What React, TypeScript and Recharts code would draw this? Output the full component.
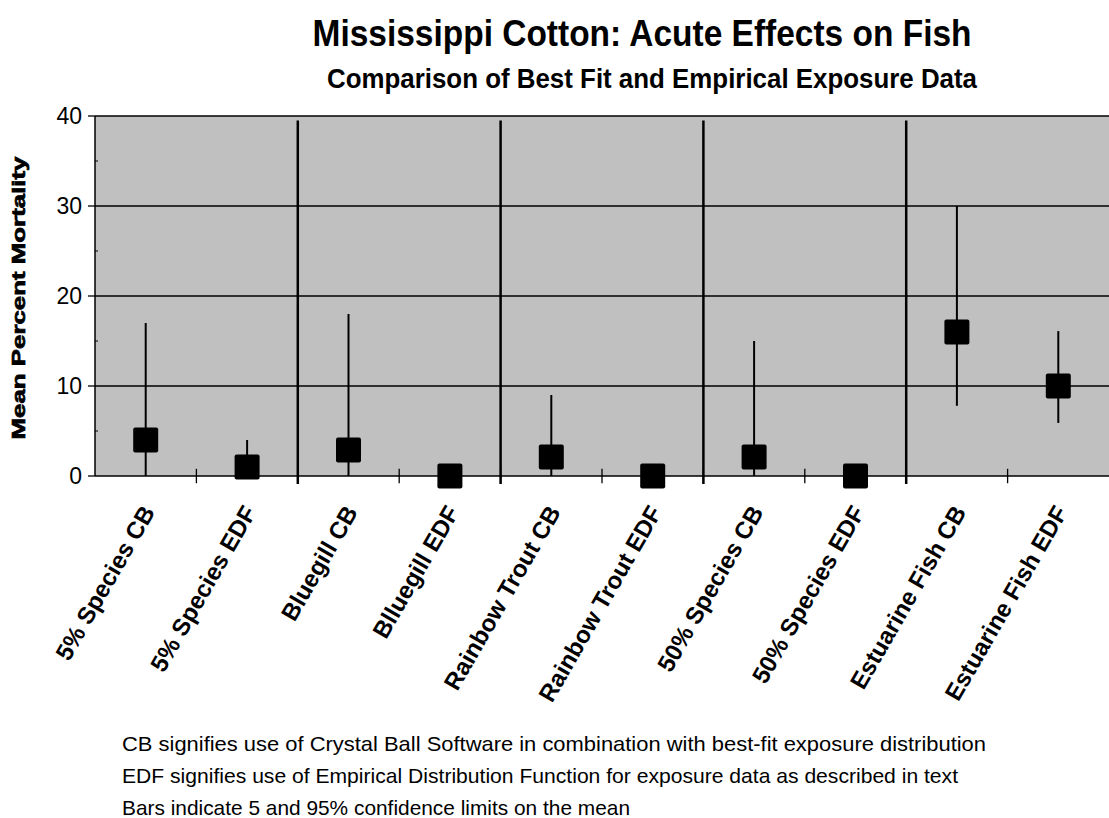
import React from "react";
import {
  ComposedChart,
  Scatter,
  ErrorBar,
  XAxis,
  YAxis,
  CartesianGrid,
  ReferenceLine,
} from "recharts";

const categories = [
  "5% Species CB",
  "5% Species EDF",
  "Bluegill CB",
  "Blluegill EDF",
  "Rainbow Trout CB",
  "Rainbow Trout EDF",
  "50% Species CB",
  "50% Species EDF",
  "Estuarine Fish CB",
  "Estuarine Fish EDF",
];

// mean percent mortality and 5% / 95% confidence limits
const means = [4, 1, 2.9, 0, 2.1, 0, 2.1, 0, 16, 10];
const lower = [0, 0, 0, 0, 0, 0, 0, 0, 7.8, 5.9];
const upper = [17, 4, 18, 0, 9, 0, 15, 0, 30, 16.1];

const yTicks = [0, 5, 10, 15, 20, 25, 30, 35, 40];
const gridValues = [10, 20, 30, 40];
const groupBreaks = [2, 4, 6, 8];
const categoryEdges = [1, 2, 3, 4, 5, 6, 7, 8, 9];

const title = "Mississippi Cotton: Acute Effects on Fish";
const subtitle = "Comparison of Best Fit and Empirical Exposure Data";
const yTitle = "Mean Percent Mortality";
const footnotes = [
  "CB signifies use of Crystal Ball Software in combination with best-fit exposure distribution",
  "EDF signifies use of Empirical Distribution Function for exposure data as described in text",
  "Bars indicate 5 and 95% confidence limits on the mean",
];

const data = categories.map((name, i) => ({
  name,
  x: i + 0.5,
  mean: means[i],
  err: [means[i] - lower[i], upper[i] - means[i]],
}));
const centers = data.map((d) => d.x);

const FONT = "'Liberation Sans', Arial, Helvetica, sans-serif";

const Square = (props: any) => {
  const { cx, cy } = props;
  if (cx == null || cy == null) return null;
  return <rect x={cx - 12.5} y={cy - 12.5} width={25} height={25} rx={2} fill="#000" />;
};

const YTick = (props: any) => {
  const { x, y, payload } = props;
  const v = payload.value;
  const major = v % 10 === 0;
  return (
    <g>
      {major ? (
        <line x1={x - 7} x2={x} y1={y} y2={y} stroke="#000" strokeWidth={1.3} />
      ) : (
        <line x1={x} x2={x + 3} y1={y} y2={y} stroke="#000" strokeWidth={1} />
      )}
      {major && (
        <text x={x - 13} y={y} dy="0.36em" textAnchor="end" fontSize={23} fontFamily={FONT} fill="#000">
          {v}
        </text>
      )}
    </g>
  );
};

const XTick = (props: any) => {
  const { x, y, payload } = props;
  const label = categories[Math.round(payload.value - 0.5)];
  return (
    <text
      transform={`translate(${x + 10},${y + 36}) rotate(-60)`}
      textAnchor="end"
      fontSize={24}
      fontWeight="bold"
      fontFamily={FONT}
      fill="#000"
    >
      {label}
    </text>
  );
};

export default function App() {
  return (
    <div style={{ position: "absolute", left: 0, top: 0, width: 1109, height: 818, background: "#fff" }}>
      <ComposedChart
        width={1109}
        height={818}
        data={data}
        margin={{ top: 116, right: 0, left: 35, bottom: 312 }}
      >
        <CartesianGrid
          vertical={false}
          horizontalValues={gridValues}
          fill="#C0C0C0"
          fillOpacity={1}
          stroke="#000"
          strokeWidth={1.3}
          strokeDasharray=""
        />
        <XAxis
          type="number"
          dataKey="x"
          domain={[0, 10]}
          ticks={centers}
          interval={0}
          tick={XTick}
          tickLine={false}
          tickSize={0}
          tickMargin={0}
          height={30}
          axisLine={{ stroke: "#000", strokeWidth: 1.5 }}
        />
        <YAxis
          type="number"
          dataKey="mean"
          domain={[0, 40]}
          ticks={yTicks}
          interval={0}
          tick={YTick}
          tickLine={false}
          tickSize={0}
          tickMargin={0}
          width={60}
          axisLine={{ stroke: "#000", strokeWidth: 1.5 }}
        />
        {categoryEdges.map((b) => (
          <ReferenceLine
            key={"t" + b}
            segment={[
              { x: b, y: -0.8 },
              { x: b, y: 0.8 },
            ]}
            stroke="#000"
            strokeWidth={1.3}
            ifOverflow="visible"
          />
        ))}
        {groupBreaks.map((b) => (
          <ReferenceLine
            key={"g" + b}
            segment={[
              { x: b, y: -0.9 },
              { x: b, y: 39.5 },
            ]}
            stroke="#000"
            strokeWidth={2.5}
            ifOverflow="visible"
          />
        ))}
        <Scatter dataKey="mean" shape={Square} isAnimationActive={false}>
          <ErrorBar dataKey="err" direction="y" width={0} stroke="#000" strokeWidth={2} isAnimationActive={false} />
        </Scatter>
      </ComposedChart>
      <svg
        width={1109}
        height={818}
        style={{ position: "absolute", left: 0, top: 0, pointerEvents: "none" }}
        fontFamily={FONT}
      >
        <text x={642} y={46} textAnchor="middle" fontSize={36} fontWeight="bold" textLength={659} lengthAdjust="spacingAndGlyphs">
          {title}
        </text>
        <text x={652} y={88} textAnchor="middle" fontSize={28} fontWeight="bold" textLength={650} lengthAdjust="spacingAndGlyphs">
          {subtitle}
        </text>
        <text
          x={25}
          y={298}
          transform="rotate(-90, 25, 298)"
          textAnchor="middle"
          fontSize={19}
          fontWeight={900}
          stroke="#000"
          strokeWidth={0.7}
          textLength={283}
          lengthAdjust="spacingAndGlyphs"
        >
          {yTitle}
        </text>
        {footnotes.map((t, i) => (
          <text
            key={i}
            x={122}
            y={751 + i * 32}
            fontSize={21}
            textLength={[864, 836, 508][i]}
            lengthAdjust="spacingAndGlyphs"
          >
            {t}
          </text>
        ))}
      </svg>
    </div>
  );
}
